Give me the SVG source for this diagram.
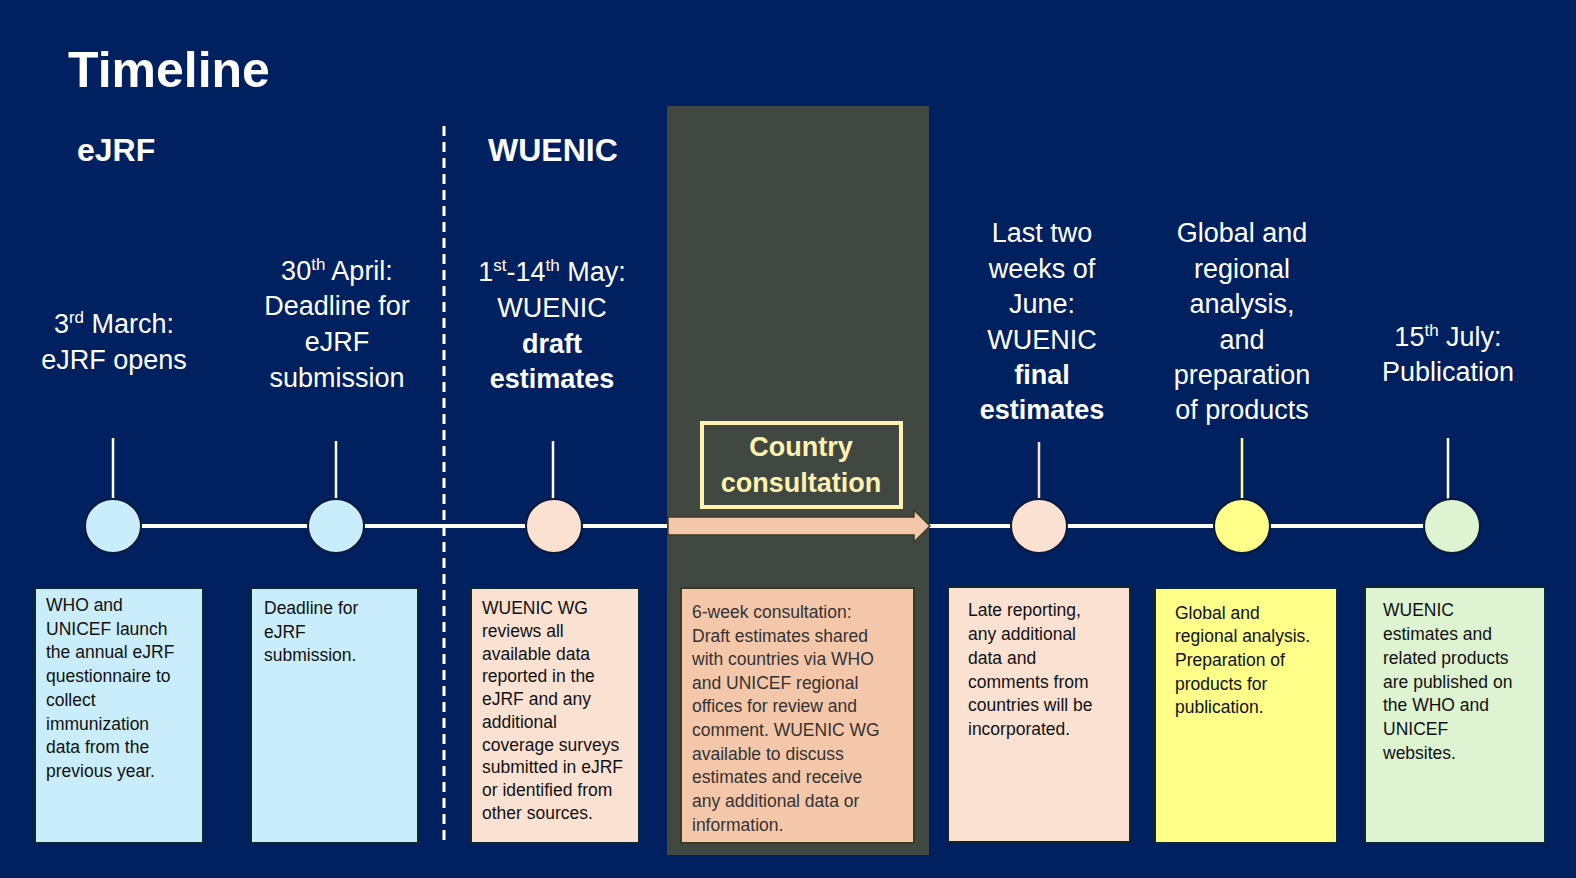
<svg xmlns="http://www.w3.org/2000/svg" width="1576" height="878" viewBox="0 0 1576 878">
<style>
.h{font-family:"Liberation Sans",Arial,sans-serif;font-size:27px;fill:#fff;text-anchor:middle}
.b{font-weight:bold}
.t{font-family:"Liberation Sans",Arial,sans-serif;font-size:17.5px;fill:#111}
.stem{stroke:#fff;stroke-width:2.5}
.box{stroke:#0a2a30;stroke-width:2}
.circ{stroke:#0a1a3a;stroke-width:2}
</style>
<rect width="1576" height="878" fill="#002060"/>
<rect x="667" y="106" width="262" height="749" fill="#414841"/>
<text x="68" y="87" font-family="Liberation Sans,Arial,sans-serif" font-size="50" font-weight="bold" fill="#fff">Timeline</text>
<text x="77" y="161" font-family="Liberation Sans,Arial,sans-serif" font-size="32" font-weight="bold" fill="#fff">eJRF</text>
<text x="488" y="161" font-family="Liberation Sans,Arial,sans-serif" font-size="32" font-weight="bold" fill="#fff">WUENIC</text>
<g id="connectors">
<line x1="113" y1="526" x2="667" y2="526" stroke="#fff" stroke-width="4"/>
<line x1="929" y1="526" x2="1452" y2="526" stroke="#fff" stroke-width="4"/>
<line x1="444" y1="126" x2="444" y2="842" stroke="#fff" stroke-width="3" stroke-dasharray="10,6"/>
<path d="M668,517 H914 V510 L930,526 L914,542 V535 H668 Z" fill="#F4C7AA" stroke="#3a3a20" stroke-width="1.5"/>
<line class="stem" x1="113" y1="438" x2="113" y2="500"/>
<line class="stem" x1="336" y1="441" x2="336" y2="500"/>
<line class="stem" x1="553" y1="441" x2="553" y2="500"/>
<line x1="1039" y1="442" x2="1039" y2="500" stroke="#FBE1D2" stroke-width="2.5"/>
<line x1="1242" y1="438" x2="1242" y2="500" stroke="#FFFF8A" stroke-width="2.5"/>
<line class="stem" x1="1448" y1="438" x2="1448" y2="500"/>
</g>
<g id="n1"><text class="h"><tspan x="114" y="333">3<tspan font-size="17" dy="-10">rd</tspan><tspan dy="10"> March:</tspan></tspan><tspan x="114" y="369">eJRF opens</tspan></text>
<ellipse class="circ" cx="113" cy="526" rx="28" ry="27" fill="#C9EDFB"/>
<rect class="box" x="35" y="588" width="168" height="255" fill="#C9EDFB"/>
<text class="t"><tspan x="46" y="611">WHO and</tspan><tspan x="46" y="635">UNICEF launch</tspan><tspan x="46" y="658">the annual eJRF</tspan><tspan x="46" y="682">questionnaire to</tspan><tspan x="46" y="706">collect</tspan><tspan x="46" y="730">immunization</tspan><tspan x="46" y="753">data from the</tspan><tspan x="46" y="777">previous year.</tspan></text></g>
<g id="n2"><text class="h"><tspan x="337" y="280">30<tspan font-size="17" dy="-10">th</tspan><tspan dy="10"> April:</tspan></tspan><tspan x="337" y="315">Deadline for</tspan><tspan x="337" y="351">eJRF</tspan><tspan x="337" y="387">submission</tspan></text>
<ellipse class="circ" cx="336" cy="526" rx="28" ry="27" fill="#C9EDFB"/>
<rect class="box" x="251" y="588" width="167" height="255" fill="#C9EDFB"/>
<text class="t"><tspan x="264" y="614">Deadline for</tspan><tspan x="264" y="638">eJRF</tspan><tspan x="264" y="661">submission.</tspan></text></g>
<g id="n3"><text class="h"><tspan x="552" y="281">1<tspan font-size="17" dy="-10">st</tspan><tspan dy="10">-14</tspan><tspan font-size="17" dy="-10">th</tspan><tspan dy="10"> May:</tspan></tspan><tspan x="552" y="317">WUENIC</tspan><tspan x="552" y="353" class="b">draft</tspan><tspan x="552" y="388" class="b">estimates</tspan></text>
<ellipse class="circ" cx="554" cy="526" rx="28" ry="27" fill="#FBE1D2"/>
<rect class="box" x="471" y="588" width="168" height="255" fill="#FBE1D2"/>
<text class="t"><tspan x="482" y="614">WUENIC WG</tspan><tspan x="482" y="637">reviews all</tspan><tspan x="482" y="660">available data</tspan><tspan x="482" y="682">reported in the</tspan><tspan x="482" y="705">eJRF and any</tspan><tspan x="482" y="728">additional</tspan><tspan x="482" y="751">coverage surveys</tspan><tspan x="482" y="773">submitted in eJRF</tspan><tspan x="482" y="796">or identified from</tspan><tspan x="482" y="819">other sources.</tspan></text></g>
<g id="n4"><rect x="702" y="423" width="199" height="84" fill="#414841" stroke="#FFF2B0" stroke-width="4"/>
<text class="h b" fill="#FFF2B0" style="fill:#FFF2B0"><tspan x="801" y="456">Country</tspan><tspan x="801" y="492">consultation</tspan></text>
<rect x="681" y="588" width="233" height="255" fill="#F4C7AA" stroke="#3a3a20" stroke-width="2"/>
<text class="t" fill="#333" style="fill:#333"><tspan x="692" y="618">6-week consultation:</tspan><tspan x="692" y="642">Draft estimates shared</tspan><tspan x="692" y="665">with countries via WHO</tspan><tspan x="692" y="689">and UNICEF regional</tspan><tspan x="692" y="712">offices for review and</tspan><tspan x="692" y="736">comment. WUENIC WG</tspan><tspan x="692" y="760">available to discuss</tspan><tspan x="692" y="783">estimates and receive</tspan><tspan x="692" y="807">any additional  data or</tspan><tspan x="692" y="831">information.</tspan></text></g>
<g id="n5"><text class="h"><tspan x="1042" y="242">Last two</tspan><tspan x="1042" y="278">weeks of</tspan><tspan x="1042" y="313">June:</tspan><tspan x="1042" y="349">WUENIC</tspan><tspan x="1042" y="384" class="b">final</tspan><tspan x="1042" y="419" class="b">estimates</tspan></text>
<ellipse class="circ" cx="1039" cy="526" rx="28" ry="27" fill="#FBE1D2"/>
<rect class="box" x="948" y="587" width="182" height="255" fill="#FBE1D2"/>
<text class="t"><tspan x="968" y="616">Late reporting,</tspan><tspan x="968" y="640">any additional</tspan><tspan x="968" y="664">data  and</tspan><tspan x="968" y="688">comments from</tspan><tspan x="968" y="711">countries will be</tspan><tspan x="968" y="735">incorporated.</tspan></text></g>
<g id="n6"><text class="h"><tspan x="1242" y="242">Global and</tspan><tspan x="1242" y="278">regional</tspan><tspan x="1242" y="313">analysis,</tspan><tspan x="1242" y="349">and</tspan><tspan x="1242" y="384">preparation</tspan><tspan x="1242" y="419">of products</tspan></text>
<ellipse class="circ" cx="1242" cy="526" rx="28" ry="27" fill="#FFFF8A"/>
<rect class="box" x="1155" y="588" width="182" height="255" fill="#FFFF8A"/>
<text class="t"><tspan x="1175" y="619">Global and</tspan><tspan x="1175" y="642">regional analysis.</tspan><tspan x="1175" y="666">Preparation of</tspan><tspan x="1175" y="690">products for</tspan><tspan x="1175" y="713">publication.</tspan></text></g>
<g id="n7"><text class="h"><tspan x="1448" y="346">15<tspan font-size="17" dy="-10">th</tspan><tspan dy="10"> July:</tspan></tspan><tspan x="1448" y="381">Publication</tspan></text>
<ellipse class="circ" cx="1452" cy="526" rx="28" ry="27" fill="#DDF3D1"/>
<rect class="box" x="1365" y="587" width="180" height="256" fill="#DDF3D1"/>
<text class="t"><tspan x="1383" y="616">WUENIC</tspan><tspan x="1383" y="640">estimates and</tspan><tspan x="1383" y="664">related products</tspan><tspan x="1383" y="688">are published on</tspan><tspan x="1383" y="711">the WHO and</tspan><tspan x="1383" y="735">UNICEF</tspan><tspan x="1383" y="759">websites.</tspan></text></g>
</svg>
